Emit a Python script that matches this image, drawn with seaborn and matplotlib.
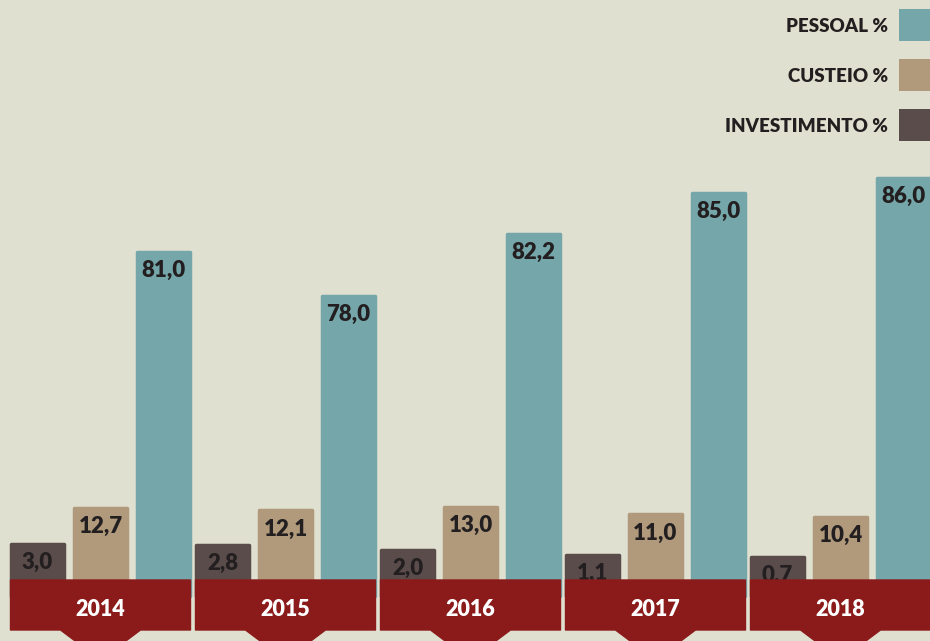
import numpy as np
import pandas as pd
import matplotlib
matplotlib.use("Agg")
import matplotlib.pyplot as plt
from matplotlib.patches import Polygon, Rectangle
import seaborn as sns

# Budget shares by year (%)
anos = ["2014", "2015", "2016", "2017", "2018"]
investimento = [3.0, 2.8, 2.0, 1.1, 0.7]
custeio = [12.7, 12.1, 13.0, 11.0, 10.4]
pessoal = [81.0, 78.0, 82.2, 85.0, 86.0]
series_nomes = ["INVESTIMENTO %", "CUSTEIO %", "PESSOAL %"]

BG = "#e0e0d0"
CORES = {"INVESTIMENTO %": "#5a4c4b", "CUSTEIO %": "#b09a7b", "PESSOAL %": "#74a6aa"}
VERMELHO = "#8b1a1a"
TEXTO = "#231f20"
PESO = "heavy"

W, H = 930, 641

df = pd.DataFrame({
    "ano": anos * 3,
    "tipo": [series_nomes[0]] * 5 + [series_nomes[1]] * 5 + [series_nomes[2]] * 5,
    "valor": investimento + custeio + pessoal,
})

sns.set_theme(style="white")
plt.rcParams["font.family"] = ["Lato", "DejaVu Sans"]

fig = plt.figure(figsize=(W / 100, H / 100), dpi=100, facecolor=BG)
ax = fig.add_axes([0, 0, 1, 1], facecolor=BG)

sns.barplot(data=df, x="ano", y="valor", hue="tipo", hue_order=series_nomes,
            palette=CORES, width=1.0216, gap=0.143, saturation=1,
            legend=False, ax=ax, errorbar=None)

for p in ax.patches:
    p.set_edgecolor(p.get_facecolor())
    p.set_linewidth(2.5)
    p.set_joinstyle("round")

# Stretched value scale: small shares stay readable next to the large ones
xp = np.array([-10, 0, 0.7, 3, 13, 78, 86, 100], dtype=float)
fp = np.array([0, 45, 84, 97, 134, 345, 463, 670], dtype=float)
fwd = lambda v: np.interp(v, xp, fp)
inv = lambda y: np.interp(y, fp, xp)
ax.set_yscale("function", functions=(fwd, inv))
ax.set_ylim(-10, float(inv(641)))

px = 185.0
x0 = 100.5 / px
ax.set_xlim(-x0, (W - 100.5) / px)
ax.set_axis_off()

# Value labels inside the bar tops
for p, v in zip(ax.patches, df["valor"]):
    cx = p.get_x() + p.get_width() / 2
    ax.annotate(f"{v:.1f}".replace(".", ","), (cx, v), xytext=(0, -13.5),
                textcoords="offset points", ha="center", va="center",
                fontsize=16, fontweight=PESO, color=TEXTO, zorder=4)

# Year banners with a small pointer tab below
fy = lambda y: 1 - y / H
half = 90 / px
tab = 40 / px
trans = ax.get_xaxis_transform()
for i, ano in enumerate(anos):
    xs = [i - half, i + half, i + half, i + tab, i, i - tab, i - half]
    ys = [fy(580), fy(580), fy(630), fy(630), fy(660), fy(630), fy(630)]
    ax.add_patch(Polygon(list(zip(xs, ys)), closed=True, transform=trans,
                         facecolor=VERMELHO, edgecolor=VERMELHO, lw=1,
                         joinstyle="round", clip_on=False, zorder=5))
    ax.text(i, fy(609), ano, transform=trans, ha="center", va="center",
            fontsize=15.5, fontweight=PESO, color="white", zorder=6)

# Legend: label followed by colour swatch
for k, nome in enumerate(reversed(series_nomes)):
    top = 9 + 50 * k
    fig.patches.append(Rectangle((899 / W, 1 - (top + 32) / H), 32 / W, 32 / H,
                                 transform=fig.transFigure, facecolor=CORES[nome],
                                 edgecolor="none"))
    fig.text(888 / W, 1 - (top + 17) / H, nome, ha="right", va="center",
             fontsize=13.5, fontweight=PESO, color=TEXTO)

fig.savefig("out.png", dpi=100, facecolor=BG)
